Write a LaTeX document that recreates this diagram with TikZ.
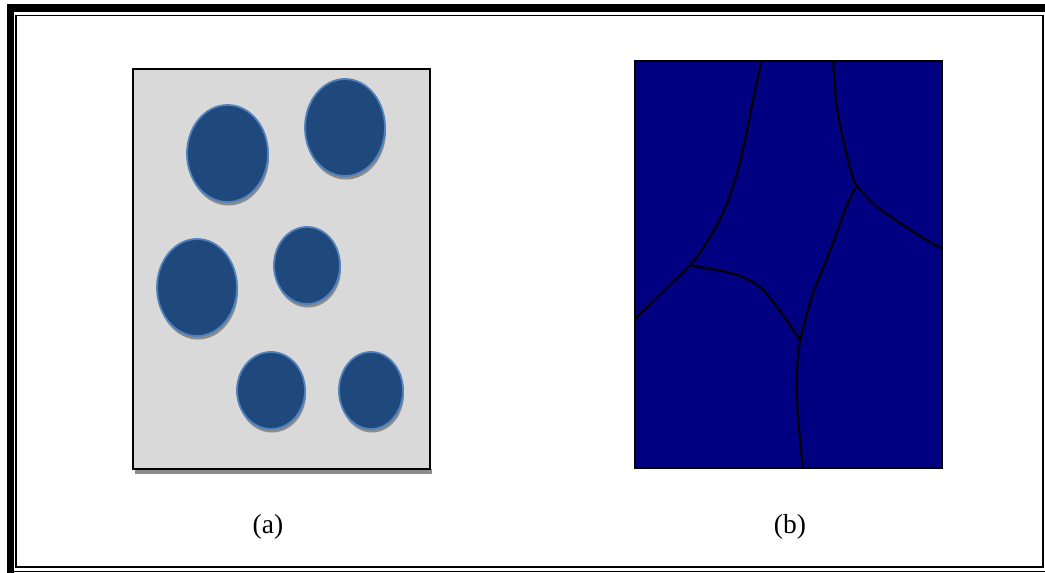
\documentclass[tikz,border=0pt]{standalone}
\usepackage{fontspec}
\setmainfont{Liberation Serif}
\definecolor{panelgray}{HTML}{D9D9D9}
\definecolor{shadowgray}{HTML}{8C8C8C}
\definecolor{grainfill}{HTML}{1F497D}
\definecolor{grainedge}{HTML}{4F81BD}
\definecolor{navyfill}{HTML}{000080}
\tikzset{
  grain/.style={fill=grainfill, draw=grainedge, line width=1.8pt},
  grainshadow/.style={fill=shadowgray, draw=none},
  boundary/.style={draw=black, line width=2.1pt, line join=round, line cap=round},
  caption/.style={font=\fontsize{27.5}{32}\selectfont, inner sep=0pt}
}
\begin{document}
\begin{tikzpicture}[x=1pt, y=-1pt]
\useasboundingbox (0,0) rectangle (1045,573);
\fill[white] (0,0) rectangle (1045,573);
% outer frame
\fill[black] (7,4) rectangle (1045,12);
\fill[black] (7,4) rectangle (14,573);
\draw[line width=1.5pt] (16,15.5) rectangle (1043,567);
\draw[line width=1.5pt] (14,571.5) -- (1045,571.5);

% panel (a)
\fill[shadowgray] (135,469) rectangle (432,474);
\draw[fill=panelgray, line width=1.5pt] (133,69) rectangle (430,469);
\foreach \cx/\cy/\rx/\ry in {227.5/153.5/40.5/48.5, 345/127.5/40/48.5, 197/287.5/40/48.5, 307/265.5/33/38.5, 271/390.5/34/38.5, 371/390.5/32/38.5}{
  \fill[grainshadow] (\cx+1,\cy+3.5) ellipse [x radius=\rx, y radius=\ry];
  \draw[grain] (\cx,\cy) ellipse [x radius=\rx, y radius=\ry];
}

% panel (b)
\draw[fill=navyfill, draw=black, line width=1.6pt] (635,61) rectangle (942,468);
\begin{scope}
\clip (635,61) rectangle (942,468);
\draw[boundary] plot[smooth, tension=0.6] coordinates {(762,58) (753,100) (745,140) (735,180) (722,215) (705,245) (690,265) (665,290) (636,318)};
\draw[boundary] plot[smooth, tension=0.5] coordinates {(690,265) (705,268) (722,271) (740,276) (760,287) (780,311) (800,340)};
\draw[boundary] plot[smooth, tension=0.5] coordinates {(800,340) (797,370) (797,400) (800,440) (803,470)};
\draw[boundary] plot[smooth, tension=0.5] coordinates {(800,340) (806,317) (813,293) (823,268) (833,243) (845,210) (855,188)};
\draw[boundary] plot[smooth, tension=0.5] coordinates {(833,58) (836,100) (841,130) (848,160) (855,183) (865,195) (877,207) (903,225) (920,236) (944,250)};
\end{scope}
\draw[black, line width=1.6pt] (635,61) rectangle (942,468);

% captions
\node[caption] (capa) at (268,527) {(a)};
\node[caption] (capb) at (790,527) {(b)};
\end{tikzpicture}
\end{document}
